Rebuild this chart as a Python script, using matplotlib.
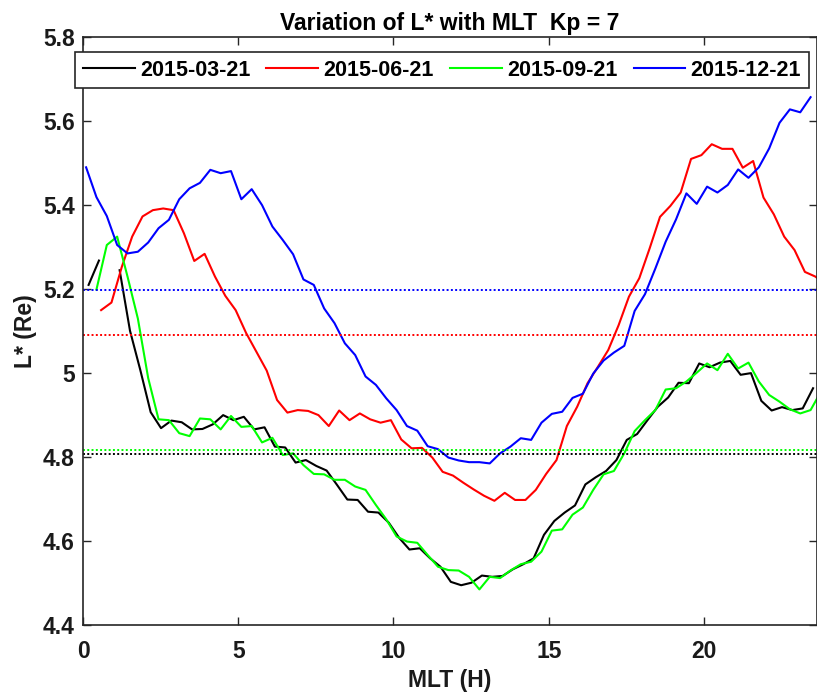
import numpy as np
import matplotlib.pyplot as plt

plt.rcParams['font.family'] = ['Liberation Sans', 'DejaVu Sans']
plt.rcParams['font.weight'] = 'bold'

nan = np.nan
# MLT grid (20 min bins), each day's bins sit at a slightly different offset
mlt = np.arange(72) / 3.0
mlt_mar = mlt + 0.18
mlt_jun = mlt + 0.25
mlt_sep = mlt + 0.10
mlt_dec = mlt + 0.10

lstar_mar = [5.209, 5.267, nan, 5.244, 5.100, 5.006, 4.906, 4.868, 4.886, 4.882,
             4.865, 4.866, 4.877, 4.899, 4.887, 4.895, 4.865, 4.870, 4.824, 4.822,
             4.786, 4.792, 4.778, 4.767, 4.733, 4.698, 4.697, 4.669, 4.667, 4.643,
             4.607, 4.579, 4.582, 4.558, 4.538, 4.502, 4.494, 4.500, 4.517, 4.514,
             4.516, 4.532, 4.544, 4.558, 4.614, 4.647, 4.667, 4.684, 4.734, 4.751,
             4.766, 4.792, 4.840, 4.854, 4.887, 4.919, 4.941, 4.976, 4.975, 5.022,
             5.013, 5.024, 5.028, 4.995, 4.999, 4.933, 4.910, 4.918, 4.911, 4.915,
             4.963, nan]
lstar_jun = [nan, 5.149, 5.167, 5.252, 5.324, 5.372, 5.387, 5.391, 5.387, 5.332,
             5.266, 5.283, 5.229, 5.183, 5.149, 5.095, 5.050, 5.005, 4.935, 4.905,
             4.911, 4.909, 4.899, 4.873, 4.910, 4.887, 4.903, 4.889, 4.881, 4.887,
             4.841, 4.820, 4.821, 4.798, 4.764, 4.755, 4.738, 4.722, 4.707, 4.695,
             4.714, 4.697, 4.697, 4.721, 4.759, 4.792, 4.873, 4.919, 4.975, 5.014,
             5.054, 5.113, 5.181, 5.225, 5.296, 5.371, 5.397, 5.429, 5.509, 5.518,
             5.544, 5.533, 5.533, 5.488, 5.504, 5.417, 5.377, 5.324, 5.292, 5.240,
             5.229, 5.211]
lstar_sep = [nan, 5.198, 5.304, 5.324, 5.229, 5.129, 4.987, 4.889, 4.887, 4.856,
             4.849, 4.891, 4.889, 4.865, 4.897, 4.871, 4.873, 4.834, 4.845, 4.804,
             4.808, 4.780, 4.759, 4.758, 4.745, 4.745, 4.729, 4.721, 4.685, 4.651,
             4.610, 4.598, 4.595, 4.566, 4.538, 4.530, 4.529, 4.514, 4.484, 4.514,
             4.511, 4.529, 4.544, 4.550, 4.574, 4.624, 4.627, 4.662, 4.679, 4.721,
             4.758, 4.766, 4.808, 4.861, 4.887, 4.911, 4.960, 4.963, 4.979, 5.000,
             5.022, 5.006, 5.045, 5.010, 5.024, 4.979, 4.947, 4.931, 4.913, 4.903,
             4.911, 4.955]
lstar_dec = [5.489, 5.418, 5.373, 5.304, 5.284, 5.288, 5.310, 5.344, 5.364, 5.413,
             5.439, 5.452, 5.483, 5.475, 5.480, 5.413, 5.437, 5.399, 5.348, 5.316,
             5.282, 5.222, 5.209, 5.153, 5.118, 5.070, 5.042, 4.991, 4.971, 4.939,
             4.911, 4.873, 4.862, 4.825, 4.818, 4.798, 4.791, 4.787, 4.787, 4.784,
             4.808, 4.824, 4.844, 4.840, 4.881, 4.902, 4.907, 4.940, 4.950, 4.998,
             5.029, 5.048, 5.064, 5.147, 5.187, 5.248, 5.312, 5.365, 5.427, 5.402,
             5.443, 5.429, 5.447, 5.484, 5.464, 5.489, 5.534, 5.595, 5.627, 5.620,
             5.656, nan]

# daily mean L*
mean_mar = 4.807
mean_jun = 5.090
mean_sep = 4.815
mean_dec = 5.197

labels = ['2015-03-21', '2015-06-21', '2015-09-21', '2015-12-21']
colors = ['#000000', '#ff0000', '#00ff00', '#0000ff']

fig = plt.figure(figsize=(8.17, 6.94), dpi=100)
ax = fig.add_axes([83 / 817, 69.3 / 694, 734 / 817, 588 / 694])

series = [(mlt_mar, lstar_mar, mean_mar), (mlt_jun, lstar_jun, mean_jun),
          (mlt_sep, lstar_sep, mean_sep), (mlt_dec, lstar_dec, mean_dec)]
for (x, y, m), c, lab in zip(series, colors, labels):
    ax.plot(x, y, color=c, lw=1.5, label=lab)
for (x, y, m), c in zip(series, colors):
    ax.axhline(m, color=c, lw=1.4, ls=(0, (1, 1.2)))

ax.set_xlim(0, 23.64)
ax.set_ylim(4.4, 5.8)
ax.set_xticks([0, 5, 10, 15, 20])
ax.set_yticks([4.4, 4.6, 4.8, 5.0, 5.2, 5.4, 5.6, 5.8])
ax.set_yticklabels(['4.4', '4.6', '4.8', '5', '5.2', '5.4', '5.6', '5.8'])
ax.tick_params(direction='in', length=6, width=1, top=True, right=True,
               colors='#262626', labelcolor='#1a1a1a', labelsize=16.5)
ax.tick_params(axis='x', pad=11)
ax.tick_params(axis='y', pad=6)
for s in ax.spines.values():
    s.set_color('#262626')
    s.set_linewidth(1.2)

ax.set_xlabel('MLT (H)', fontsize=16.5, fontweight='bold', color='#1a1a1a', labelpad=4)
ax.set_ylabel('L* (Re)', fontsize=16.5, fontweight='bold', color='#1a1a1a', labelpad=4)
ax.set_title('Variation of L* with MLT  Kp = 7', fontsize=16.5, fontweight='bold', pad=5)

leg = ax.legend(loc='upper center', bbox_to_anchor=(442 / 817, 1 - 52.3 / 694),
                bbox_transform=fig.transFigure, ncol=4, fontsize=15.5,
                handlelength=2.4, handletextpad=0.25, columnspacing=0.75,
                borderpad=0.35, borderaxespad=0, fancybox=False, framealpha=1,
                edgecolor='#262626')
leg.get_frame().set_linewidth(1.2)

fig.savefig('out.png', dpi=100)
